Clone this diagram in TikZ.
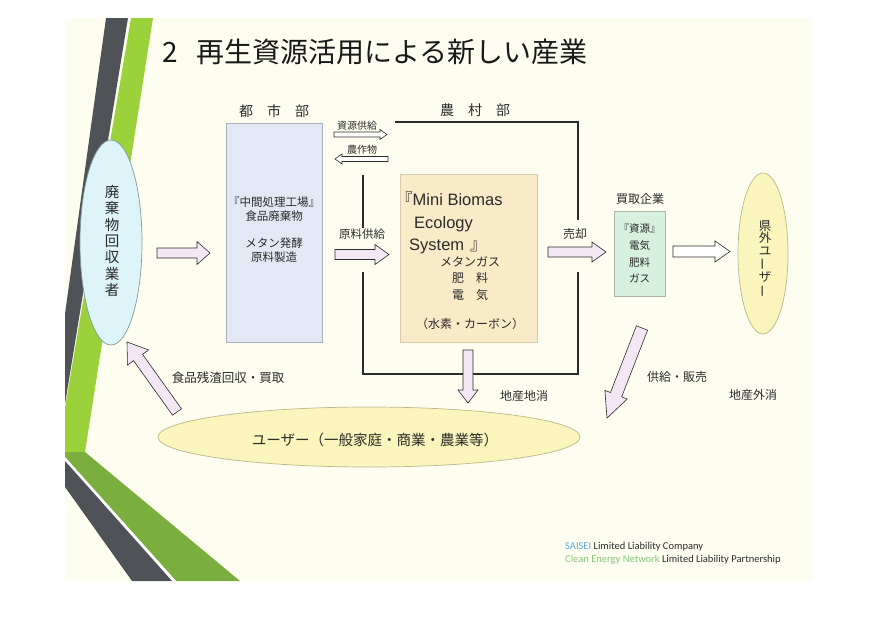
\documentclass[tikz,border=0pt]{standalone}
\usepackage{fontspec}
\setmainfont{Liberation Sans}
\newfontfamily\jpfont{Noto Sans CJK JP}
\newfontfamily\footfont{Carlito}
\usetikzlibrary{calc}
\usetikzlibrary{shapes.geometric}
\usepackage{xcolor}
\definecolor{slidebg}{HTML}{FEFEF0}
\definecolor{stripegray}{HTML}{4F5257}
\definecolor{stripelime}{HTML}{9BD23C}
\definecolor{stripeolive}{HTML}{7AAE3E}
\definecolor{citybg}{HTML}{E2E9F5}
\definecolor{citydraw}{HTML}{A9B0BC}
\definecolor{minibg}{HTML}{FAEBC8}
\definecolor{minidraw}{HTML}{D8CBB0}
\definecolor{buybg}{HTML}{D6F1DE}
\definecolor{buydraw}{HTML}{A9B3AA}
\definecolor{collbg}{HTML}{DDF4F8}
\definecolor{colldraw}{HTML}{7F9A9A}
\definecolor{userbg}{HTML}{FAF5BC}
\definecolor{userdraw}{HTML}{BDB68A}
\definecolor{arrowbg}{HTML}{F4E7F4}
\definecolor{txt}{HTML}{2B2B2B}
\definecolor{saiseiblue}{HTML}{5FA6D4}
\definecolor{cengreen}{HTML}{86C77A}

\newcommand\blockarrow[6][]{%
  \coordinate (hb) at ($(#3)!#6!(#2)$);
  \draw[blockarr,#1] ($(#2)!#4!90:(#3)$) -- ($(hb)!#4!90:(#3)$) -- ($(hb)!#5!90:(#3)$)
    -- (#3) -- ($(hb)!#5!-90:(#3)$) -- ($(hb)!#4!-90:(#3)$) -- ($(#2)!#4!-90:(#3)$) -- cycle;
}

\begin{document}
\begin{tikzpicture}[x=1pt,y=-1pt,
  lbl/.style={inner sep=0,text=txt,font=\jpfont\fontsize{12pt}{14pt}\selectfont},
  small/.style={lbl,font=\jpfont\fontsize{10pt}{12pt}\selectfont},
  region/.style={lbl,font=\jpfont\fontsize{14pt}{16pt}\selectfont},
  latin/.style={anchor=base west,inner sep=0,text=txt,font=\fontsize{16.5pt}{18pt}\selectfont},
  panel/.style={draw=#1,line width=.7pt,inner sep=0},
  blockarr/.style={draw=txt,fill=arrowbg,line width=.6pt,line join=miter},
  farmline/.style={draw=txt,line width=1.1pt},
  footline/.style={anchor=base west,inner sep=0,text=txt,font=\footfont\fontsize{10.5pt}{13pt}\selectfont}]
\fill[white] (0,0) rectangle (878,621);
\useasboundingbox (0,0) rectangle (878,621);
\fill[slidebg] (65,18) rectangle (812,581);
\fill[stripegray] (106,18) -- (128,18) -- (65,404) -- (65,314) -- cycle;
\fill[stripelime] (131,18) -- (153,18) -- (85,452) -- (65,452) -- (65,408) -- cycle;
\fill[stripeolive] (65,452) -- (85,452) -- (240,581) -- (176,581) -- (65,457) -- cycle;
\fill[white] (65,457) -- (176,581) -- (172,581) -- (65,461) -- cycle;
\fill[stripegray] (65,461) -- (172,581) -- (132,581) -- (65,487) -- cycle;

\node[anchor=west,inner sep=0,text=black!90,font=\jpfont\fontsize{28pt}{32pt}\selectfont] (title) at (162,52) {2\hspace{19pt}再生資源活用による新しい産業};

\node[ellipse,draw=colldraw,fill=collbg,line width=.7pt,minimum width=62pt,minimum height=205pt,inner sep=0] (collector) at (111,242.5) {};
\node[lbl,align=center,font=\jpfont\fontsize{14.5pt}{16.3pt}\selectfont] (collectortext) at (112,241) {廃\\棄\\物\\回\\収\\業\\者};

\node[region] (citylabel) at (274,111) {都\hspace{1em}市\hspace{1em}部};
\node[region] (farmlabel) at (475,110) {農\hspace{1em}村\hspace{1em}部};

\node[panel=citydraw,fill=citybg,minimum width=96pt,minimum height=219pt] (city) at (274,232.5) {};
\node[lbl,align=center,font=\jpfont\fontsize{11.5pt}{13.75pt}\selectfont] (citytext) at ($(city)+(0,-3)$) {『中間処理工場』\\食品廃棄物\\[13.75pt]メタン発酵\\原料製造};

\draw[farmline] (395,122) -- (578,122) -- (578,220);
\draw[farmline] (578,272) -- (578,374) -- (363,374) -- (363,272);
\draw[farmline] (363,228) -- (363,175);

\coordinate (supA) at (334,134.5);
\coordinate (supB) at (387,134.5);
\blockarrow[fill=white]{supA}{supB}{2.5pt}{5pt}{7pt}
\node[small] (suplabel) at (357,126) {資源供給};
\coordinate (cropA) at (388,159);
\coordinate (cropB) at (335,159);
\blockarrow[fill=white]{cropA}{cropB}{2.5pt}{5pt}{7pt}
\node[small] (croplabel) at (362,150) {農作物};

\node[panel=minidraw,fill=minibg,minimum width=137pt,minimum height=168pt] (mini) at (468.5,258.5) {};
\node[latin] (mini1) at (396,205) {{\jpfont 『}Mini Biomas};
\node[latin] (mini2) at (414,228) {Ecology};
\node[latin] (mini3) at (409,250) {System\hspace{6pt}{\jpfont 』}};
\node[lbl,align=center,font=\jpfont\fontsize{12pt}{16.5pt}\selectfont] (miniout) at (470,278.5) {メタンガス\\肥　料\\電　気};
\node[lbl] (minigas) at (470,324) {（水素・カーボン）};

\node[panel=buydraw,fill=buybg,minimum width=51pt,minimum height=85pt,align=center,text=txt,font=\jpfont\fontsize{10.5pt}{16.7pt}\selectfont] (buy) at (639.5,253.5) {『資源』\\電気\\肥料\\ガス};
\node[lbl] (buylabel) at (640,199) {買取企業};

\node[ellipse,draw=userdraw,fill=userbg,line width=.7pt,minimum width=50pt,minimum height=161pt,inner sep=0] (pref) at (763,253.5) {};
\node[lbl,align=center,font=\jpfont\fontsize{12.5pt}{12.4pt}\selectfont] (preftext) at ($(pref)+(2,5.5)$) {県\\外\\ユ\\\rotatebox[origin=c]{90}{ー}\\ザ\\\rotatebox[origin=c]{90}{ー}};

\node[ellipse,draw=userdraw,fill=userbg,line width=.7pt,minimum width=422pt,minimum height=60pt,inner sep=0] (users) at (369,437) {};
\node[lbl,font=\jpfont\fontsize{14.5pt}{16pt}\selectfont] (userstext) at (375,440) {ユーザー（一般家庭・商業・農業等）};

\coordinate (collOut) at (157,253);
\coordinate (cityIn) at (210,253);
\blockarrow{collOut}{cityIn}{5pt}{11.5pt}{13pt}
\coordinate (cityOut) at (335,254.5);
\coordinate (miniIn) at (389,254.5);
\blockarrow{cityOut}{miniIn}{5pt}{10pt}{14pt}
\node[lbl,font=\jpfont\fontsize{11.5pt}{14pt}\selectfont] (feedlabel) at (362,234) {原料供給};
\coordinate (miniOut) at (548,252);
\coordinate (buyIn) at (606,252);
\blockarrow{miniOut}{buyIn}{5pt}{10pt}{14pt}
\node[lbl] (selllabel) at (575,234) {売却};
\coordinate (buyOut) at (673,251.5);
\coordinate (prefIn) at (730,251.5);
\blockarrow[fill=white]{buyOut}{prefIn}{5.5pt}{10.5pt}{15pt}
\coordinate (miniDown) at (468,350);
\coordinate (usersIn) at (468,403);
\blockarrow{miniDown}{usersIn}{5pt}{10pt}{13pt}
\node[lbl] (locallabel) at (524,396) {地産地消};
\coordinate (buyDown) at (642,328);
\coordinate (usersIn2) at (607,418);
\blockarrow{buyDown}{usersIn2}{6pt}{12pt}{25pt}
\node[lbl] (supplylabel) at (677,377) {供給・販売};
\node[lbl] (outerlabel) at (753,395) {地産外消};
\coordinate (usersOut) at (177,412);
\coordinate (collIn) at (127,342);
\blockarrow{usersOut}{collIn}{5.5pt}{13pt}{19pt}
\node[lbl,font=\jpfont\fontsize{12.5pt}{14pt}\selectfont] (residuelabel) at (228,378) {食品残渣回収・買取};

\node[footline] (foot1) at (565,549.5) {\textcolor{saiseiblue}{SAISEI} Limited Liability Company};
\node[footline] (foot2) at (565,562.5) {\textcolor{cengreen}{Clean Energy Network} Limited Liability Partnership};
\end{tikzpicture}
\end{document}
